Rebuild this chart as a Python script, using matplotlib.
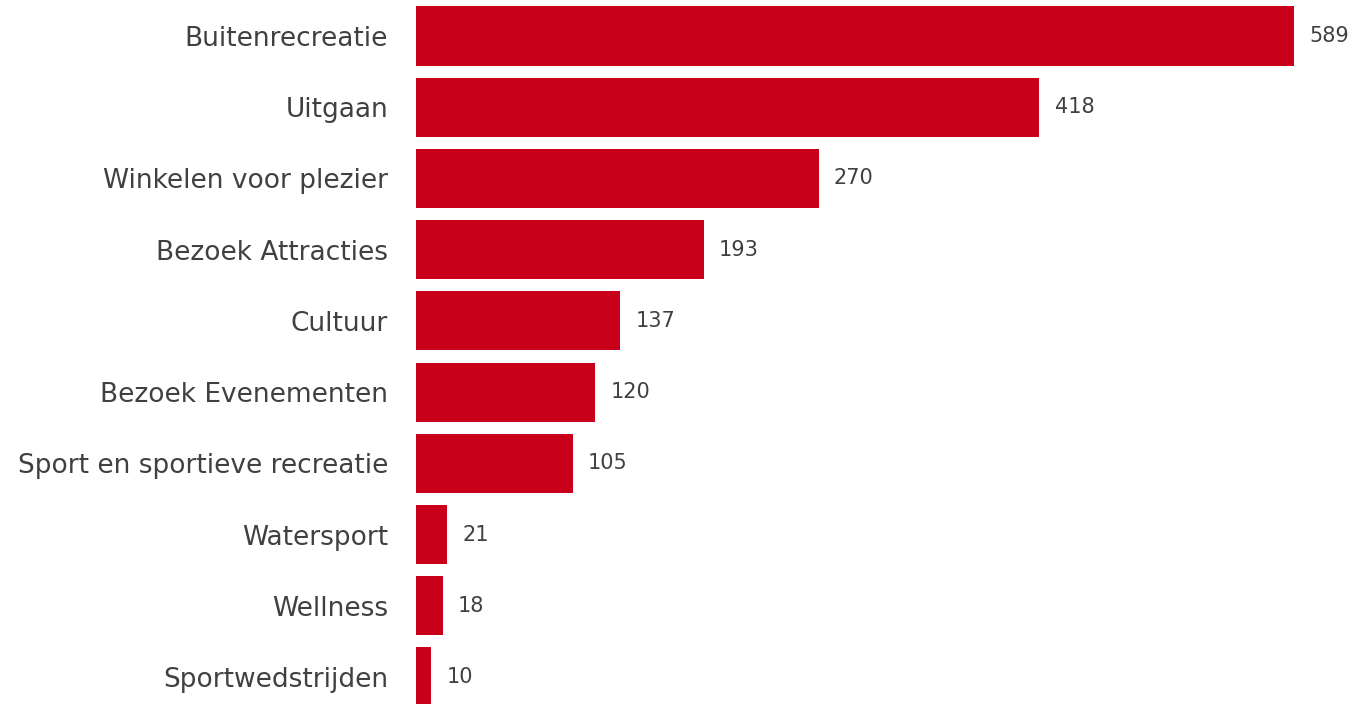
import matplotlib.pyplot as plt

categories = ["Buitenrecreatie", "Uitgaan", "Winkelen voor plezier", "Bezoek Attracties",
              "Cultuur", "Bezoek Evenementen", "Sport en sportieve recreatie",
              "Watersport", "Wellness", "Sportwedstrijden"]
values = [589, 418, 270, 193, 137, 120, 105, 21, 18, 10]

bar_color = "#C80019"
text_color = "#404040"

plt.rcParams["font.family"] = ["DejaVu Sans"]

fig = plt.figure(figsize=(13.54, 7.04), dpi=100)
ax = fig.add_axes([416 / 1354, 0, 1 - 416 / 1354, 1])

pos = range(len(categories))
ax.barh(pos, values, height=0.83, color=bar_color)

for i, v in enumerate(values):
    ax.annotate(str(v), (v, i), xytext=(11, 0), textcoords="offset points",
                ha="left", va="center", fontsize=15, color=text_color)

ax.set_yticks(list(pos))
ax.set_yticklabels(categories, fontsize=19, color=text_color)
ax.tick_params(axis="y", length=0, pad=20)
ax.set_xticks([])
ax.set_xlim(0, 629)
ax.set_ylim(len(categories) - 1 + 0.38, -0.506)
for s in ax.spines.values():
    s.set_visible(False)

fig.savefig("out.png", dpi=100)
